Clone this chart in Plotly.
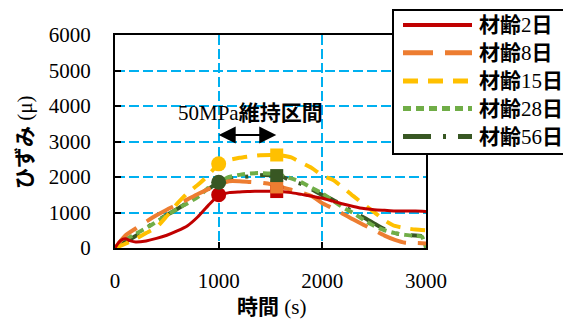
import plotly.graph_objects as go

# ---- data ----
x_red = [0, 50, 100, 150, 200, 300, 400, 500, 600, 700, 800, 900, 1000, 1100, 1200, 1300, 1400, 1500, 1600, 1700, 1800, 1900, 2000, 2100, 2200, 2300, 2400, 2500, 2600, 2700, 2800, 2900, 3000]
y_red = [0, 200, 260, 200, 170, 200, 270, 360, 480, 630, 880, 1200, 1480, 1560, 1580, 1590, 1600, 1600, 1590, 1560, 1510, 1460, 1400, 1320, 1240, 1170, 1110, 1080, 1060, 1040, 1040, 1040, 1030]

x_or = [0, 100, 200, 300, 400, 500, 600, 700, 800, 900, 1000, 1100, 1200, 1300, 1400, 1500, 1600, 1700, 1800, 1900, 2000, 2100, 2200, 2300, 2400, 2500, 2600, 2700, 2800, 2900, 3000]
y_or = [0, 350, 550, 740, 920, 1080, 1220, 1370, 1520, 1660, 1790, 1880, 1880, 1860, 1840, 1800, 1720, 1640, 1560, 1460, 1260, 1120, 960, 800, 650, 500, 350, 230, 150, 140, 130]

x_go = [0, 100, 200, 300, 400, 500, 600, 700, 800, 900, 1000, 1100, 1200, 1300, 1400, 1500, 1600, 1700, 1800, 1900, 2000, 2100, 2200, 2300, 2400, 2500, 2600, 2700, 2800, 2900, 3000]
y_go = [0, 120, 260, 420, 580, 900, 1250, 1550, 1780, 2050, 2370, 2480, 2540, 2580, 2610, 2620, 2610, 2550, 2400, 2250, 2040, 1920, 1700, 1460, 1230, 1010, 780, 620, 560, 520, 500]

x_gr = [0, 100, 200, 300, 400, 500, 600, 700, 800, 900, 1000, 1100, 1200, 1300, 1400, 1500, 1600, 1700, 1800, 1900, 2000, 2100, 2200, 2300, 2400, 2500, 2600, 2700, 2800, 2900, 2960, 3000]
y_gr = [0, 230, 400, 560, 740, 920, 1100, 1260, 1440, 1690, 1850, 2000, 2060, 2100, 2110, 2100, 2050, 1960, 1850, 1690, 1540, 1340, 1140, 980, 790, 620, 500, 420, 370, 340, 320, 0]

x_dg = [0, 100, 200, 300, 400, 500, 600, 700, 800, 900, 1000, 1100, 1200, 1300, 1400, 1500, 1600, 1700, 1800, 1900, 2000, 2100, 2200, 2300, 2400, 2500, 2600, 2700, 2800, 2900, 2960]
y_dg = [0, 170, 340, 560, 760, 930, 1100, 1280, 1470, 1660, 1850, 1940, 1990, 2020, 2050, 2050, 2030, 1890, 1800, 1650, 1490, 1360, 1200, 1000, 860, 690, 530, 420, 370, 350, 340]

# start / end of 50MPa holding interval markers
start_x = [1000, 1000, 1000]
start_y = [1500, 1850, 2370]          # red, dark green, gold
start_col = ["#C00000", "#385723", "#FFC000"]
end_x = [1560, 1560, 1560, 1560]
end_y = [1590, 1720, 2040, 2620]      # red, orange, dark green, gold
end_col = ["#C00000", "#ED7D31", "#385723", "#FFC000"]

names = ["材齢2日", "材齢8日", "材齢15日", "材齢28日", "材齢56日"]
labels_html = ["<b>材齢</b>2<b>日</b>", "<b>材齢</b>8<b>日</b>", "<b>材齢</b>15<b>日</b>",
               "<b>材齢</b>28<b>日</b>", "<b>材齢</b>56<b>日</b>"]
colors = ["#C00000", "#ED7D31", "#FFC000", "#70AD47", "#385723"]
dashes = ["solid", "30px,12px", "15px,10px", "8px,5px", "28px,12px,3px,12px"]
widths = [3, 4, 4, 4, 4]

xticks = [0, 1000, 2000, 3000]
yticks = [0, 1000, 2000, 3000, 4000, 5000, 6000]
x_title = "<b>時間</b> (s)"
y_title = "<b>ひずみ</b> (μ)"

FONT = "Liberation Serif, Noto Sans CJK JP"

series = [(x_red, y_red), (x_or, y_or), (x_go, y_go), (x_gr, y_gr), (x_dg, y_dg)]
draw_order = [4, 3, 1, 2, 0]

fig = go.Figure()
for i in draw_order:
    xs, ys = series[i]
    fig.add_trace(go.Scatter(x=xs, y=ys, mode="lines", name=names[i],
                             line=dict(color=colors[i], width=widths[i], dash=dashes[i], shape="spline", smoothing=0.6)))

fig.add_trace(go.Scatter(x=start_x, y=start_y, mode="markers",
                         marker=dict(symbol="circle", size=15, color=start_col), showlegend=False))
fig.add_trace(go.Scatter(x=end_x, y=end_y, mode="markers",
                         marker=dict(symbol="square", size=13, color=end_col), showlegend=False))

# page body has an 8px margin; target plot area in page pixels
OFF = 8
PW, PH = 571, 320
L, R, T, B = 115, 426, 35, 248
W, H = R - L, B - T
def px(xp):
    return (xp - L) / W
def py(yp):
    return (B - yp) / H

# manual legend
fig.add_shape(type="rect", xref="paper", yref="paper", x0=px(393), x1=px(575), y0=py(154), y1=py(10),
              line=dict(color="black", width=2), fillcolor="white", layer="above")
rows = [25, 52.7, 81, 108.5, 136.5]
for i in range(5):
    fig.add_shape(type="line", xref="paper", yref="paper", x0=px(403), x1=px(472), y0=py(rows[i]), y1=py(rows[i]),
                  line=dict(color=colors[i], width=widths[i] + 1, dash=dashes[i]), layer="above")
    fig.add_annotation(xref="paper", yref="paper", x=px(477), y=py(rows[i]), text=labels_html[i],
                       showarrow=False, xanchor="left", yanchor="middle",
                       font=dict(family=FONT, size=21, color="black"))

# axis titles
fig.add_annotation(xref="paper", yref="paper", x=px(271), y=py(307), text=x_title, showarrow=False,
                   xanchor="center", yanchor="middle", font=dict(family=FONT, size=21, color="black"))
fig.add_annotation(xref="paper", yref="paper", x=px(25), y=py(142), text=y_title, showarrow=False,
                   textangle=-90, xanchor="center", yanchor="middle", font=dict(family=FONT, size=21, color="black"))

# interval annotation
fig.add_annotation(x=1311, y=3817, xref="x", yref="y", text="50MPa<b>維持区間</b>", showarrow=False,
                   font=dict(family=FONT, size=21, color="black"))
fig.add_annotation(x=1000, y=3180, ax=1570, ay=3180, xref="x", yref="y", axref="x", ayref="y",
                   text="", showarrow=True, arrowhead=2, arrowside="end+start", arrowsize=1.7,
                   arrowwidth=2, arrowcolor="black")

common = dict(showline=True, linecolor="black", linewidth=2, mirror=True,
              showgrid=True, gridcolor="#00B0F0", gridwidth=1.5, griddash="10px,4px",
              ticks="inside", ticklen=6, tickcolor="black", tickwidth=1.5,
              zeroline=False, automargin=False,
              tickfont=dict(family=FONT, size=21, color="black"))
fig.update_xaxes(range=[0, 3000], tickvals=xticks, ticktext=[str(v) for v in xticks],
                 ticklabelstandoff=13, **common)
fig.update_yaxes(range=[0, 6000], tickvals=yticks, ticktext=[str(v) for v in yticks],
                 ticklabelstandoff=18, **common)

fig.update_layout(width=PW - OFF, height=PH - OFF,
                  margin=dict(l=L - OFF, r=PW - R, t=T - OFF, b=PH - B),
                  plot_bgcolor="white", paper_bgcolor="white", showlegend=False)

fig.write_html("out.html")
